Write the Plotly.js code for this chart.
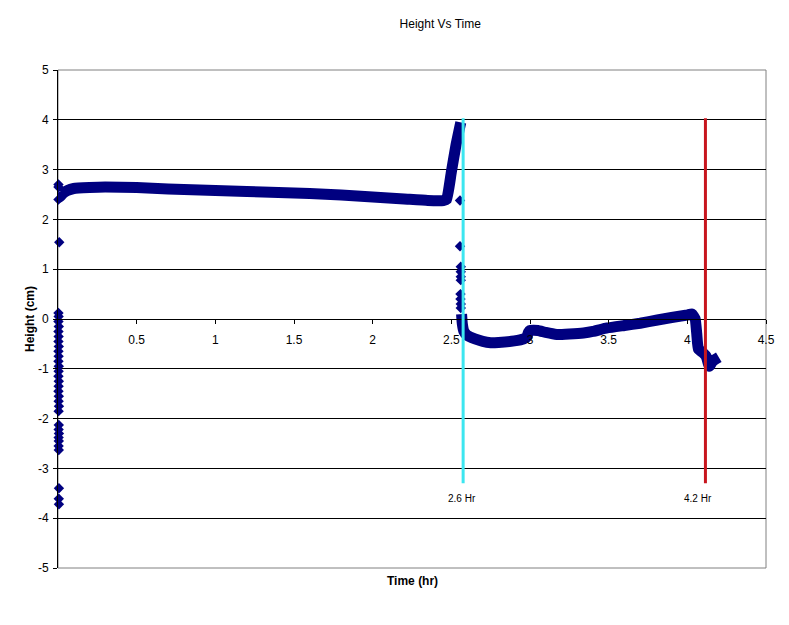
<!DOCTYPE html>
<html>
<head>
<meta charset="utf-8">
<script src="https://cdn.plot.ly/plotly-3.0.1.min.js"></script>
<style>
  body { margin: 0; background: #fff; }
  #plot_height_time { width: 789px; height: 625px; }
</style>
</head>
<body>
<div id="plot_height_time"></div>
<script>
// band before the jump
var timeA = [0.005, 0.012, 0.03, 0.06, 0.1, 0.2, 0.3, 0.5, 0.7, 0.8, 1.0, 1.2, 1.4, 1.6,
             1.8, 2.0, 2.2, 2.35, 2.45, 2.47, 2.50, 2.53, 2.56];
var heightA = [2.55, 2.45, 2.52, 2.58, 2.62, 2.64, 2.65, 2.64, 2.61, 2.60, 2.58, 2.56, 2.54, 2.52,
               2.49, 2.45, 2.41, 2.38, 2.38, 2.40, 2.95, 3.50, 3.95];

// band after the jump
var timeB = [2.565, 2.57, 2.58, 2.60, 2.65, 2.70, 2.75, 2.80, 2.90, 2.96, 2.98, 2.99, 3.00,
             3.05, 3.10, 3.17, 3.25, 3.34, 3.40, 3.49, 3.60, 3.70, 3.81, 3.90, 4.00, 4.03,
             4.05, 4.06, 4.07, 4.10, 4.12, 4.14, 4.16, 4.20];
var heightB = [0.10, -0.10, -0.25, -0.33, -0.40, -0.45, -0.475, -0.47, -0.44, -0.40, -0.36, -0.27, -0.23,
               -0.23, -0.27, -0.31, -0.30, -0.28, -0.25, -0.18, -0.13, -0.085, -0.02, 0.03, 0.08, 0.10,
               0.00, -0.30, -0.60, -0.68, -0.75, -0.95, -0.85, -0.77];

// loose points at the start and at the jump
var timeLoose = [0.003, 0.003, 0.003, 0.008,
                 0.003, 0.004, 0.003, 0.005, 0.003, 0.004, 0.003, 0.005, 0.003, 0.004,
                 0.003, 0.005, 0.004, 0.003, 0.005, 0.004, 0.003, 0.005, 0.004, 0.006,
                 0.004, 0.005, 0.004, 0.006, 0.004, 0.005, 0.004, 0.005, 0.006, 0.005, 0.006,
                 2.555, 2.555, 2.56, 2.56, 2.56, 2.56, 2.558, 2.558, 2.56, 2.56];
var heightLoose = [2.70, 2.65, 2.40, 1.54,
                   0.12, 0.05, -0.05, -0.15, -0.25, -0.35, -0.45, -0.55, -0.65, -0.75,
                   -0.85, -0.95, -1.05, -1.15, -1.25, -1.35, -1.45, -1.55, -1.65, -1.75,
                   -1.85, -2.13, -2.22, -2.30, -2.38, -2.45, -2.55, -2.63, -3.40, -3.61, -3.72,
                   2.38, 1.46, 1.05, 0.95, 0.85, 0.78, 0.50, 0.40, 0.30, 0.22];

// marker lines
var markTimes = [2.575, 4.115];
var markLabels = ['2.6 Hr', '4.2 Hr'];
var markLabelTimes = [2.565, 4.07];
var markColors = ['#3CE6F0', '#C8161E'];
var markTop = 4.03;
var markBottom = -3.3;
var markLabelY = -3.6;

var xTicks = [0.5, 1, 1.5, 2, 2.5, 3, 3.5, 4, 4.5];
var yTicks = [-5, -4, -3, -2, -1, 0, 1, 2, 3, 4, 5];
var navy = '#000080';

var traceA = {
  x: timeA,
  y: heightA,
  type: 'scatter',
  mode: 'lines',
  line: { color: navy, width: 11, shape: 'spline', smoothing: 0.4 },
  cliponaxis: false,
  showlegend: false,
  hoverinfo: 'x+y'
};

var traceB = {
  x: timeB,
  y: heightB,
  type: 'scatter',
  mode: 'lines',
  line: { color: navy, width: 11, shape: 'spline', smoothing: 0.4 },
  showlegend: false,
  hoverinfo: 'x+y'
};

var traceLoose = {
  x: timeLoose,
  y: heightLoose,
  type: 'scatter',
  mode: 'markers',
  marker: { symbol: 'diamond', color: navy, size: 8 },
  cliponaxis: false,
  showlegend: false,
  hoverinfo: 'x+y'
};

var data = [traceA, traceB, traceLoose];

var shapes = [{
  type: 'rect', xref: 'paper', yref: 'paper', x0: 0, x1: 1, y0: 0, y1: 1,
  line: { color: '#808080', width: 1 }, layer: 'below'
}];
var annotations = [{
  text: 'Time (hr)', xref: 'paper', yref: 'paper', x: 0.5, y: 0,
  yshift: -22, showarrow: false,
  font: { family: 'Liberation Sans, Arial, sans-serif', size: 12, color: '#000', weight: 'bold' }
}];

for (var i = 0; i < markTimes.length; i++) {
  shapes.push({
    type: 'line', xref: 'x', yref: 'y',
    x0: markTimes[i], x1: markTimes[i], y0: markBottom, y1: markTop,
    line: { color: markColors[i], width: 3 }
  });
  annotations.push({
    text: markLabels[i], x: markLabelTimes[i], y: markLabelY,
    xref: 'x', yref: 'y', showarrow: false,
    font: { family: 'Liberation Sans, Arial, sans-serif', size: 10, color: '#000' }
  });
}

var layout = {
  width: 789,
  height: 625,
  paper_bgcolor: '#fff',
  plot_bgcolor: '#fff',
  margin: { l: 58, r: 23, t: 70, b: 57 },
  font: { family: 'Liberation Sans, Arial, sans-serif', size: 12, color: '#000' },
  title: {
    text: 'Height Vs Time',
    font: { size: 12 },
    xref: 'container', x: 0.558, xanchor: 'center',
    yref: 'container', y: 0.962, yanchor: 'middle'
  },
  xaxis: {
    range: [0, 4.5],
    tickvals: xTicks,
    ticktext: xTicks.map(String),
    showgrid: false,
    zeroline: false,
    showline: true,
    linecolor: '#000',
    linewidth: 1,
    ticks: 'outside',
    ticklen: 4,
    tickcolor: '#000',
    anchor: 'free',
    position: 0.5,
    ticklabelstandoff: 6
  },
  yaxis: {
    range: [-5, 5],
    tickvals: yTicks,
    ticktext: yTicks.map(String),
    showgrid: true,
    gridcolor: '#000',
    gridwidth: 1,
    zeroline: false,
    showline: true,
    linecolor: '#000',
    ticks: 'outside',
    ticklen: 4,
    tickcolor: '#000',
    ticklabelstandoff: 2,
    title: {
      text: 'Height (cm)',
      standoff: 0,
      font: { size: 12, weight: 'bold' }
    }
  },
  shapes: shapes,
  annotations: annotations
};

var config = {
  responsive: false,
  displayModeBar: false
};

Plotly.newPlot('plot_height_time', data, layout, config);
</script>
</body>
</html>
